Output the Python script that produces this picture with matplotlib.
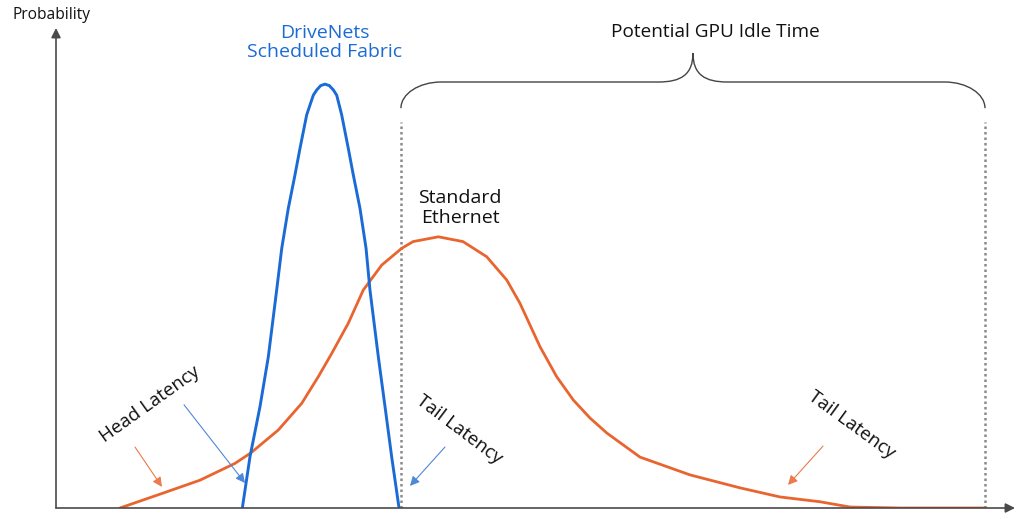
#!/usr/bin/env python3
# -*- coding: utf-8 -*-
"""
Latency distribution sketch: DriveNets scheduled fabric vs standard ethernet
"""

import matplotlib
matplotlib.use("Agg")
import matplotlib.pyplot as plt
from matplotlib.path import Path
from matplotlib.patches import PathPatch

plt.rcParams['font.family'] = ['Open Sans', 'DejaVu Sans']

# latency (arbitrary units) and probability
fabric_latency = [1.943, 2.023, 2.127, 2.214, 2.301, 2.354, 2.422, 2.492, 2.544,
                  2.614, 2.683, 2.719, 2.760, 2.805, 2.850, 2.892, 2.927, 2.979,
                  3.048, 3.100, 3.170, 3.233, 3.274, 3.361, 3.431, 3.500, 3.577]
fabric_prob = [0.0, 0.107, 0.211, 0.315, 0.454, 0.541, 0.624, 0.694, 0.749,
               0.819, 0.860, 0.871, 0.880, 0.883, 0.880, 0.871, 0.860, 0.819,
               0.749, 0.694, 0.624, 0.541, 0.454, 0.315, 0.211, 0.107, 0.0]

ethernet_latency = [0.667, 1.116, 1.502, 1.867, 2.033, 2.318, 2.562, 2.735, 2.875,
                    3.048, 3.204, 3.396, 3.605, 3.723, 3.987, 4.244, 4.491, 4.700,
                    4.838, 5.047, 5.221, 5.394, 5.568, 5.745, 6.090, 6.611, 7.132,
                    7.550, 7.967, 8.280, 8.801, 9.687]
ethernet_prob = [0.0, 0.031, 0.058, 0.093, 0.115, 0.1625, 0.218, 0.2735, 0.322,
                 0.385, 0.454, 0.506, 0.541, 0.555, 0.565, 0.555, 0.5235, 0.475,
                 0.4265, 0.336, 0.2735, 0.225, 0.1875, 0.156, 0.106, 0.069, 0.042,
                 0.023, 0.013, 0.002, 0.0, 0.0]

# edges of the "idle time" window
idle_start = 3.597
idle_end = 9.687

BLUE = '#1b6bd6'
ORANGE = '#e8652f'
AXIS = '#4a4a4a'


def draw_brace(ax, x0, x1, y_base, y_bar, y_tip, color='#444444'):
    # curly brace made of bezier pieces
    xm = (x0 + x1) / 2
    end_w = 0.42
    mid_w = 0.36
    k = 0.55
    y_knee = y_base + k * (y_bar - y_base)
    y_neck = y_bar + 0.25 * (y_tip - y_bar)
    verts = [
        (x0, y_base),
        (x0, y_knee), (x0 + end_w * (1 - k), y_bar), (x0 + end_w, y_bar),
        (xm - mid_w, y_bar),
        (xm - mid_w * 0.35, y_bar), (xm, y_neck), (xm, y_tip),
        (xm, y_neck), (xm + mid_w * 0.35, y_bar), (xm + mid_w, y_bar),
        (x1 - end_w, y_bar),
        (x1 - end_w * (1 - k), y_bar), (x1, y_knee), (x1, y_base),
    ]
    codes = [Path.MOVETO,
             Path.CURVE4, Path.CURVE4, Path.CURVE4,
             Path.LINETO,
             Path.CURVE4, Path.CURVE4, Path.CURVE4,
             Path.CURVE4, Path.CURVE4, Path.CURVE4,
             Path.LINETO,
             Path.CURVE4, Path.CURVE4, Path.CURVE4]
    patch = PathPatch(Path(verts, codes), facecolor='none', edgecolor=color, lw=1.0,
                      clip_on=False)
    ax.add_patch(patch)


def small_arrow(ax, start, end, color):
    ax.annotate('', xy=end, xytext=start,
                arrowprops=dict(arrowstyle='-|>', color=color, lw=0.8,
                                mutation_scale=14, shrinkA=0, shrinkB=0))


def main():
    fig = plt.figure(figsize=(10.24, 5.19), dpi=100)
    ax = fig.add_axes([56 / 1024, 11 / 519, 959 / 1024, 480 / 519])
    ax.set_xlim(0, 10)
    ax.set_ylim(0, 1)
    for s in ax.spines.values():
        s.set_visible(False)
    ax.set_xticks([])
    ax.set_yticks([])

    # axes with arrow heads
    for tip in [(0, 1), (1, 0)]:
        ax.annotate('', xy=tip, xytext=(0, 0), xycoords='axes fraction',
                    arrowprops=dict(arrowstyle='-|>', color=AXIS, lw=1.2,
                                    mutation_scale=14, shrinkA=0, shrinkB=0,
                                    facecolor='black'))
    ax.text(-0.05, 1.027, 'Probability', ha='center', va='center', fontsize=11.2,
            color='#111111', clip_on=False)

    # idle window
    ax.vlines([idle_start, idle_end], 0, 0.804, colors='#8a8a8a',
              linestyles=(0, (1, 1.2)), lw=1.8)
    draw_brace(ax, idle_start, idle_end, 0.833, 0.8875, 0.948)
    ax.text((idle_start + idle_end) / 2 + 0.23, 0.992, 'Potential GPU Idle Time',
            ha='center', va='center', fontsize=13.7, color='#111111')

    # the two distributions
    ax.plot(ethernet_latency, ethernet_prob, color=ORANGE, lw=2.0,
            solid_capstyle='round', solid_joinstyle='round')
    ax.plot(fabric_latency, fabric_prob, color=BLUE, lw=2.1,
            solid_capstyle='round', solid_joinstyle='round')

    ax.text(2.805, 0.970, 'DriveNets\nScheduled Fabric', ha='center', va='center',
            fontsize=14, color=BLUE, linespacing=1.1)
    ax.text(4.213, 0.625, 'Standard\nEthernet', ha='center', va='center',
            fontsize=14, color='#111111', linespacing=1.1)

    # latency labels
    ax.text(0.980, 0.217, 'Head Latency', rotation=35.5, ha='center', va='center',
            fontsize=13.5, color='#111111', rotation_mode='anchor')
    ax.text(4.202, 0.1625, 'Tail Latency', rotation=-37, ha='center', va='center',
            fontsize=13.5, color='#111111', rotation_mode='anchor')
    ax.text(8.30, 0.173, 'Tail Latency', rotation=-36, ha='center', va='center',
            fontsize=13.5, color='#111111', rotation_mode='anchor')

    small_arrow(ax, (0.824, 0.127), (1.105, 0.044), '#ec7a4c')
    small_arrow(ax, (1.335, 0.215), (1.971, 0.052), '#4f88d6')
    small_arrow(ax, (4.056, 0.127), (3.691, 0.046), '#4f88d6')
    small_arrow(ax, (7.998, 0.129), (7.633, 0.048), '#ec7a4c')

    fig.savefig('out.png', dpi=100, facecolor='white')


main()
